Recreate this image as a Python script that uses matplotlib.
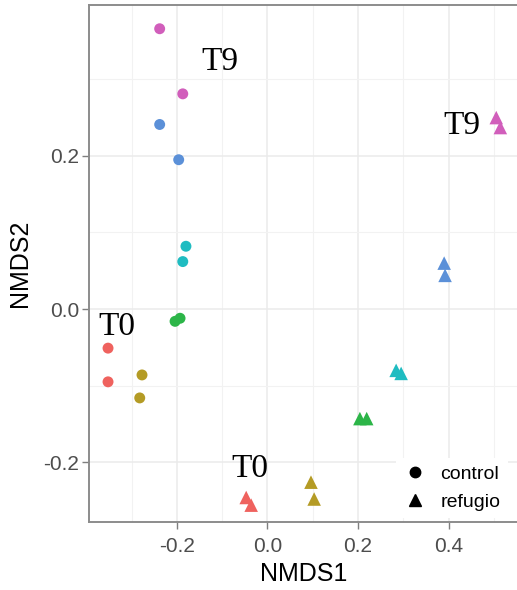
import matplotlib
matplotlib.use("Agg")
import matplotlib.pyplot as plt
from matplotlib.lines import Line2D
from matplotlib.ticker import MultipleLocator

# NMDS scores, two samples per sampling time (group index 0..5)
ctrl_x = [-0.352, -0.352, -0.277, -0.282, -0.204, -0.193, -0.180, -0.187, -0.238, -0.196, -0.238, -0.187]
ctrl_y = [-0.051, -0.095, -0.086, -0.116, -0.016, -0.012, 0.082, 0.062, 0.241, 0.195, 0.366, 0.281]
ctrl_grp = [0, 0, 1, 1, 2, 2, 3, 3, 4, 4, 5, 5]

ref_x = [-0.047, -0.036, 0.096, 0.103, 0.204, 0.219, 0.284, 0.295, 0.390, 0.392, 0.505, 0.514]
ref_y = [-0.246, -0.256, -0.226, -0.248, -0.143, -0.143, -0.080, -0.084, 0.060, 0.044, 0.250, 0.237]
ref_grp = [0, 0, 1, 1, 2, 2, 3, 3, 4, 4, 5, 5]

grp_colors = ["#EF625E", "#B49B25", "#2CB548", "#1FBCC1", "#5B90D8", "#D15EBB"]

# time annotations
labels = ["T9", "T9", "T0", "T0"]
label_x = [-0.105, 0.430, -0.333, -0.039]
label_y = [0.328, 0.244, -0.018, -0.204]

fig = plt.figure(figsize=(5.17, 5.90), dpi=100)
ax = fig.add_axes([89 / 517, 68 / 590, 429 / 517, 517 / 590])

ax.set_xlim(-0.394, 0.553)
ax.set_ylim(-0.278, 0.397)

ax.xaxis.set_major_locator(MultipleLocator(0.2))
ax.xaxis.set_minor_locator(MultipleLocator(0.1))
ax.yaxis.set_major_locator(MultipleLocator(0.2))
ax.yaxis.set_minor_locator(MultipleLocator(0.1))
ax.grid(which="major", color="#EBEBEB", linewidth=1.1, zorder=0)
ax.grid(which="minor", color="#F2F2F2", linewidth=0.8, zorder=0)
ax.set_axisbelow(True)
ax.tick_params(which="minor", length=0)
ax.tick_params(which="major", length=5, width=1, color="#7F7F7F",
               labelsize=15, labelcolor="#4D4D4D")
ax.tick_params(axis="x", pad=6)
ax.tick_params(axis="y", pad=2)
ax.xaxis.set_major_formatter(plt.FuncFormatter(lambda v, p: "%.1f" % v))
ax.yaxis.set_major_formatter(plt.FuncFormatter(lambda v, p: "%.1f" % v))
for s in ax.spines.values():
    s.set_color("#8C8C8C")
    s.set_linewidth(1.4)
ax.spines["right"].set_visible(False)

ax.scatter(ctrl_x, ctrl_y, c=[grp_colors[g] for g in ctrl_grp], marker="o",
           s=62, edgecolors="none", zorder=3)
ax.scatter(ref_x, ref_y, c=[grp_colors[g] for g in ref_grp], marker="^",
           s=95, edgecolors="none", zorder=3)

for t, x, y in zip(labels, label_x, label_y):
    ax.text(x, y, t, family="Liberation Serif", fontsize=24, ha="center",
            va="center_baseline", color="black", zorder=4)

ax.set_xlabel("NMDS1", family="Liberation Sans", fontsize=18, labelpad=4)
ax.set_ylabel("NMDS2", family="Liberation Sans", fontsize=18, labelpad=8)
for lab in ax.get_xticklabels() + ax.get_yticklabels():
    lab.set_family("Liberation Sans")

handles = [
    Line2D([], [], marker="o", linestyle="none", color="black", markersize=7.5),
    Line2D([], [], marker="^", linestyle="none", color="black", markersize=9),
]
leg = ax.legend(handles, ["control", "refugio"], loc="upper left",
                bbox_to_anchor=(0.715, 0.124), frameon=True, fancybox=False,
                framealpha=1, edgecolor="none", facecolor="white",
                prop={"family": "Liberation Sans", "size": 14},
                handletextpad=0.7, labelspacing=0.5, borderpad=0.4,
                handlelength=1.2, borderaxespad=0)
leg.set_zorder(5)

fig.savefig("out.png", dpi=100)
